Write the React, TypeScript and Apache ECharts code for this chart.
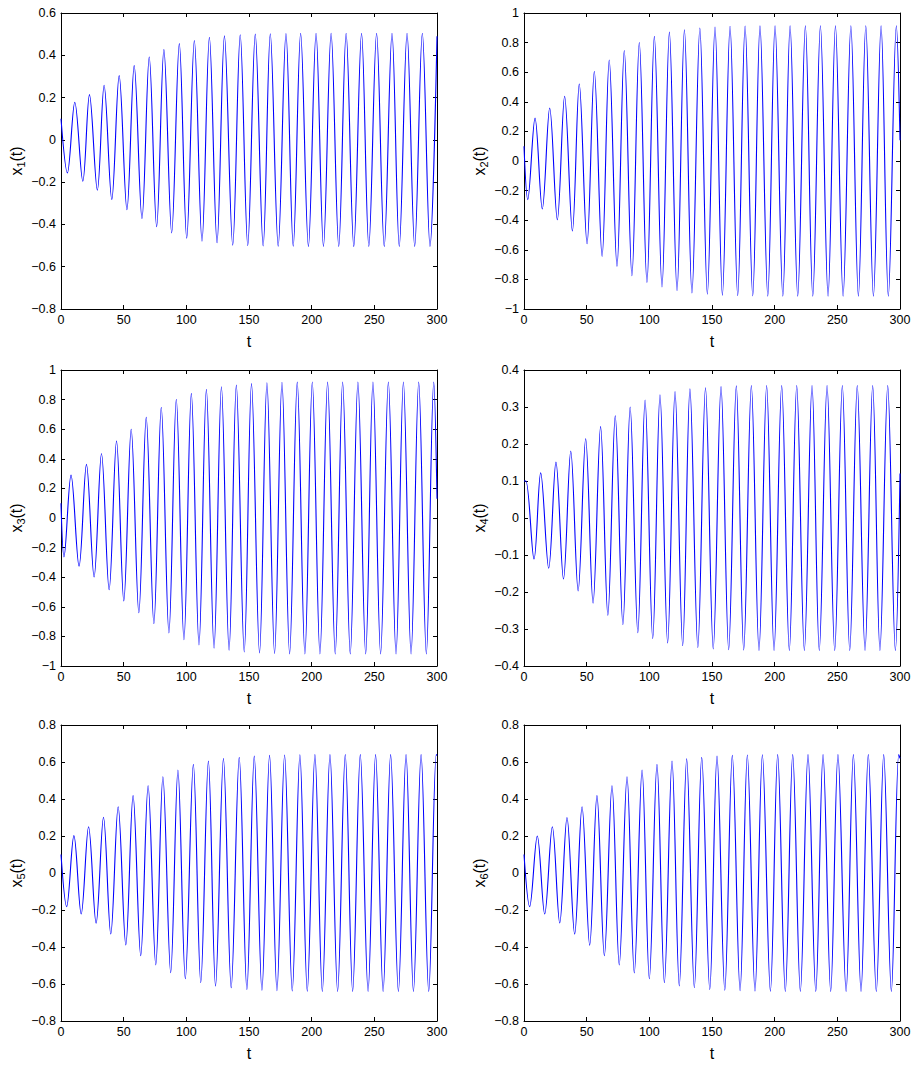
import React, { useEffect, useRef } from 'react';
import * as echarts from 'echarts';

// ---- data (extrema of each trace, t vs x_i(t)) ----
const T_MIN = 0;
const T_MAX = 300;
const T_STEP = 50;

const PANEL_INDEX = ['1', '2', '3', '4', '5', '6'];
const Y_MIN = [-0.8, -1, -1, -0.4, -0.8, -0.8];
const Y_MAX = [0.6, 1, 1, 0.4, 0.8, 0.8];
const Y_STEP = [0.2, 0.2, 0.2, 0.1, 0.2, 0.2];

const X1: [number, number][] = [
  [0, 0.1], [5.1, -0.156], [11, 0.178], [17.4, -0.196], [22.7, 0.214], [29, -0.238], [34.4, 0.258],
  [40.5, -0.282], [46.4, 0.304], [52.6, -0.33], [58.4, 0.351], [64.6, -0.372], [70.4, 0.392],
  [76.3, -0.411], [82.1, 0.427], [88.3, -0.44], [94.4, 0.455], [100.3, -0.465], [106.4, 0.47],
  [112.5, -0.479], [118.4, 0.485], [124.5, -0.487], [130.4, 0.492], [137, -0.498], [143, 0.497],
  [149, -0.5], [155, 0.5], [161.3, -0.502], [167, 0.502], [173.3, -0.503], [179.5, 0.503],
  [185.3, -0.503], [191.2, 0.504], [197.4, -0.504], [203.5, 0.504], [209.4, -0.504], [215.5, 0.504],
  [221.6, -0.504], [227.5, 0.504], [233.6, -0.504], [239.8, 0.504], [245.6, -0.504], [251.8, 0.504],
  [257.9, -0.504], [264.1, 0.504], [269.9, -0.504], [276.1, 0.504], [282.2, -0.504], [288.3, 0.504],
  [294.4, -0.504], [300, 0.49],
];

const X2: [number, number][] = [
  [0, 0.1], [3, -0.261], [8.8, 0.29], [14.6, -0.324], [20.5, 0.358], [26.6, -0.397], [32.4, 0.437],
  [38.6, -0.473], [44.1, 0.52], [50.3, -0.559], [56.1, 0.605], [62.3, -0.645], [68, 0.682],
  [74.2, -0.712], [80, 0.747], [86.1, -0.775], [92, 0.801], [98.1, -0.82], [104, 0.842],
  [110.1, -0.851], [116, 0.871], [122.1, -0.876], [128, 0.887], [134, -0.892], [140.3, 0.899],
  [146.3, -0.9], [152.4, 0.905], [158.3, -0.907], [164.4, 0.91], [170.5, -0.91], [176.4, 0.912],
  [182.5, -0.912], [188.3, 0.913], [194.5, -0.913], [200.3, 0.914], [206.5, -0.914], [212.3, 0.914],
  [218.4, -0.914], [224.5, 0.914], [230.4, -0.914], [236.5, 0.914], [242.6, -0.914], [248.5, 0.914],
  [254.6, -0.914], [260.8, 0.914], [266.8, -0.914], [272.7, 0.914], [278.8, -0.914], [284.9, 0.914],
  [290.7, -0.914], [297.1, 0.914], [300, 0.14],
];

const X3: [number, number][] = [
  [0, 0.1], [2.4, -0.263], [8, 0.29], [14.4, -0.326], [20.3, 0.362], [26.4, -0.398], [32.3, 0.436],
  [38.4, -0.484], [44.3, 0.52], [50.1, -0.56], [56, 0.6], [62.1, -0.64], [68, 0.68],
  [74.1, -0.714], [80, 0.748], [86.1, -0.777], [92, 0.802], [98.1, -0.822], [104, 0.842],
  [110.1, -0.858], [116, 0.869], [122.1, -0.879], [128, 0.887], [134.1, -0.894], [139.9, 0.898],
  [146.2, -0.905], [152, 0.908], [158.4, -0.912], [164.3, 0.914], [170.4, -0.916], [176.3, 0.917],
  [182.4, -0.918], [188.5, 0.918], [194.6, -0.919], [200.5, 0.919], [206.6, -0.919], [212.7, 0.919],
  [218.8, -0.919], [224.7, 0.919], [230.8, -0.919], [236.9, 0.919], [243.1, -0.919], [248.9, 0.919],
  [255, -0.919], [261.2, 0.919], [267.3, -0.919], [273.2, 0.919], [279.3, -0.919], [285.4, 0.919],
  [291.5, -0.919], [297.4, 0.919], [300, 0.13],
];

const X4: [number, number][] = [
  [0, 0.1], [1.5, 0.1], [8, -0.111], [13.3, 0.122], [19.7, -0.136], [25.5, 0.151], [31.5, -0.165],
  [37.3, 0.181], [43.2, -0.197], [49.2, 0.214], [55.1, -0.23], [61.1, 0.247], [66.9, -0.263],
  [72.8, 0.276], [78.9, -0.288], [84.7, 0.3], [90.8, -0.31], [96.6, 0.319], [102.7, -0.326],
  [108.5, 0.333], [114.6, -0.338], [120.5, 0.342], [126.6, -0.345], [132.4, 0.349], [138.7, -0.35],
  [144.8, 0.352], [151, -0.354], [157.2, 0.355], [163.3, -0.356], [169.4, 0.357], [175.3, -0.357],
  [181.4, 0.358], [187.5, -0.358], [193.6, 0.358], [199.5, -0.358], [205.6, 0.358], [211.7, -0.358],
  [217.6, 0.358], [223.7, -0.358], [229.8, 0.358], [235.6, -0.358], [241.8, 0.358], [247.9, -0.358],
  [254, 0.358], [259.9, -0.358], [265.9, 0.358], [272.1, -0.358], [278.2, 0.358], [284, -0.358],
  [290.2, 0.358], [296.3, -0.358], [300, 0.12],
];

const X5: [number, number][] = [
  [0, 0.1], [4.5, -0.182], [10.3, 0.202], [16.1, -0.222], [22, 0.25], [28, -0.272], [33.9, 0.301],
  [39.7, -0.33], [45.6, 0.358], [51.7, -0.389], [57.5, 0.418], [63.6, -0.447], [69.5, 0.472],
  [75.6, -0.497], [81.3, 0.52], [87.5, -0.539], [93.3, 0.557], [99.2, -0.571], [105.6, 0.587],
  [111.5, -0.593], [117.6, 0.605], [123.3, -0.611], [129.6, 0.618], [135.8, -0.62], [142.2, 0.625],
  [148.3, -0.63], [154.2, 0.632], [160.3, -0.634], [166.4, 0.636], [172.3, -0.636], [178.4, 0.638],
  [184.5, -0.638], [190.6, 0.639], [196.5, -0.639], [202.6, 0.64], [208.5, -0.64], [214.6, 0.64],
  [220.7, -0.64], [226.8, 0.64], [232.7, -0.64], [238.8, 0.64], [245, -0.64], [251, 0.64],
  [257, -0.64], [263, 0.64], [269.2, -0.64], [275.3, 0.64], [281.2, -0.64], [287.3, 0.64],
  [293.4, -0.64], [299.4, 0.64], [300, 0.635],
];

const X6: [number, number][] = [
  [0, 0.1], [4.5, -0.182], [10.6, 0.2], [16.5, -0.222], [22.6, 0.25], [28.5, -0.27], [34.3, 0.3],
  [40.4, -0.33], [46.3, 0.358], [52.4, -0.39], [58.2, 0.418], [64.1, -0.447], [70.2, 0.472],
  [76, -0.497], [82.2, 0.52], [88, -0.54], [94.2, 0.557], [100, -0.572], [106.1, 0.587],
  [112, -0.593], [118.1, 0.605], [123.9, -0.61], [129.8, 0.617], [135.9, -0.62], [141.8, 0.625],
  [148.2, -0.63], [154, 0.632], [160.2, -0.634], [166.2, 0.636], [172.4, -0.636], [178.2, 0.638],
  [184.3, -0.638], [190.2, 0.639], [196.6, -0.639], [202.4, 0.64], [208.5, -0.64], [214.4, 0.64],
  [220.5, -0.64], [226.6, 0.64], [232.8, -0.64], [238.6, 0.64], [244.7, -0.64], [250.5, 0.64],
  [257, -0.64], [262.8, 0.64], [268.9, -0.64], [274.7, 0.64], [281.1, -0.64], [287, 0.64],
  [293.1, -0.64], [299, 0.64], [300, 0.62],
];

const TRACES = [X1, X2, X3, X4, X5, X6];

// ---- layout ----
const FONT = 'Liberation Sans, Arial, Helvetica, sans-serif';
const GRIDS = [
  { left: 61, top: 13, width: 376, height: 296 },
  { left: 524, top: 13, width: 376, height: 296 },
  { left: 61, top: 370, width: 376, height: 296 },
  { left: 524, top: 370, width: 376, height: 296 },
  { left: 61, top: 725, width: 376, height: 296 },
  { left: 524, top: 725, width: 376, height: 296 },
];

const fmt = (v: number) => {
  const r = Math.round(v * 1000) / 1000;
  if (r === 0) return '0';
  return String(r).replace('-', '\u2212');
};

function buildOption() {
  const xAxis: any[] = [];
  const yAxis: any[] = [];
  const series: any[] = [];
  const axisLine = { show: true, onZero: false, lineStyle: { color: '#000', width: 1 } };
  const axisTick = { show: true, inside: true, length: 4, lineStyle: { color: '#000', width: 1 } };
  const label = { color: '#000', fontSize: 12.5, fontFamily: FONT };

  GRIDS.forEach((_, i) => {
    xAxis.push({
      gridIndex: i, type: 'value', position: 'bottom',
      min: T_MIN, max: T_MAX, interval: T_STEP,
      axisLine, axisTick, splitLine: { show: false },
      axisLabel: { ...label, margin: 4, formatter: fmt },
      name: 't', nameLocation: 'middle', nameGap: 24,
      nameTextStyle: { color: '#000', fontSize: 16, fontFamily: FONT },
    });
    xAxis.push({
      gridIndex: i, type: 'value', position: 'top',
      min: T_MIN, max: T_MAX, interval: T_STEP,
      axisLine, axisTick, splitLine: { show: false }, axisLabel: { show: false },
    });
    yAxis.push({
      gridIndex: i, type: 'value', position: 'left',
      min: Y_MIN[i], max: Y_MAX[i], interval: Y_STEP[i],
      axisLine, axisTick, splitLine: { show: false },
      axisLabel: { ...label, margin: 5, formatter: fmt },
      name: `{a|x}{s|${PANEL_INDEX[i]}}{a|(t)}`, nameLocation: 'middle', nameGap: 35,
      nameTextStyle: {
        color: '#000', fontSize: 16, fontFamily: FONT,
        rich: {
          a: { color: '#000', fontSize: 16, fontFamily: FONT, lineHeight: 20 },
          s: { color: '#000', fontSize: 11, fontFamily: FONT, verticalAlign: 'bottom' },
        },
      },
    });
    yAxis.push({
      gridIndex: i, type: 'value', position: 'right',
      min: Y_MIN[i], max: Y_MAX[i], interval: Y_STEP[i],
      axisLine, axisTick, splitLine: { show: false }, axisLabel: { show: false },
    });
    series.push({
      type: 'line', xAxisIndex: 2 * i, yAxisIndex: 2 * i,
      data: TRACES[i], showSymbol: false, symbol: 'none',
      smooth: 0.36, lineStyle: { color: '#0000ff', width: 1.1 }, clip: true,
    });
  });

  return {
    animation: false,
    backgroundColor: '#fff',
    grid: GRIDS.map((g) => ({ ...g, containLabel: false })),
    xAxis, yAxis, series,
  };
}

export default function App() {
  const ref = useRef<HTMLDivElement>(null);
  useEffect(() => {
    if (!ref.current) return;
    const chart = echarts.init(ref.current, undefined, { renderer: 'svg' });
    chart.setOption(buildOption() as any);
    return () => chart.dispose();
  }, []);
  return (
    <div
      ref={ref}
      style={{ position: 'absolute', left: 0, top: 0, width: 917, height: 1065, background: '#fff' }}
    />
  );
}
